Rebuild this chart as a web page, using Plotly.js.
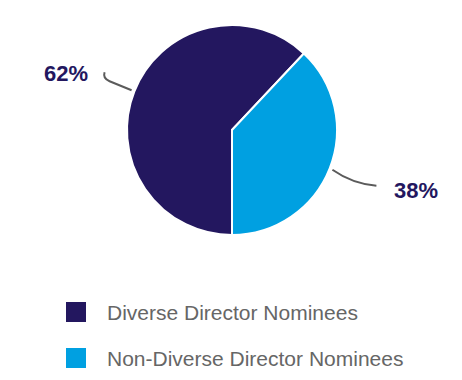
<!DOCTYPE html>
<html>
<head>
<meta charset="utf-8">
<script src="https://cdn.plot.ly/plotly-3.0.1.min.js"></script>
<style>html,body{margin:0;padding:0;background:#fff;}#chart{width:462px;height:380px;}</style>
</head>
<body>
<div id="chart"></div>
<script>
// ---- data ----
const labels = ['Diverse Director Nominees', 'Non-Diverse Director Nominees'];
const values = [62, 38];
const colors = ['#23175F', '#00A0E1'];

// ---- layout constants (pixels) ----
const W = 462, H = 380;
const CX = 232, CY = 130, R = 105;
const ROTATION = 180;
const FONT = 'Arial, "Liberation Sans", sans-serif';
// leader paths relative to slice anchor, and label offsets relative to anchor
const leaderCfg = [
  {path: [['L', -22, -9], ['Q', -29, -12, -27, -18]], label: [-66, -17]},
  {path: [['Q', 20, 14, 44, 16]], label: [84, 21]}
];
const legendCfg = {x: 66, y0: 312, dy: 46, size: 20, textX: 105, fontSize: 21};

const px = (x) => x / W;
const py = (y) => 1 - y / H;

const total = values.reduce((a, b) => a + b, 0);
const shapes = [];
const annotations = [];

let cum = 0;
values.forEach((v, i) => {
  const mid = (ROTATION + (cum + v / 2) / total * 360) * Math.PI / 180;
  cum += v;
  const ax = CX + Math.sin(mid) * (R + 3);
  const ay = CY - Math.cos(mid) * (R + 3);
  const cfg = leaderCfg[i];
  let d = `M${px(ax)},${py(ay)}`;
  cfg.path.forEach(seg => {
    if (seg[0] === 'L') d += ` L${px(ax + seg[1])},${py(ay + seg[2])}`;
    else d += ` Q${px(ax + seg[1])},${py(ay + seg[2])} ${px(ax + seg[3])},${py(ay + seg[4])}`;
  });
  shapes.push({type: 'path', xref: 'paper', yref: 'paper', path: d,
    line: {color: '#5b5b5b', width: 2}});
  annotations.push({xref: 'paper', yref: 'paper',
    x: px(ax + cfg.label[0]), y: py(ay + cfg.label[1]),
    xanchor: 'center', yanchor: 'middle', showarrow: false,
    text: '<b>' + Math.round(v / total * 100) + '%</b>',
    font: {family: FONT, size: 22, color: '#23175F'}});
});

labels.forEach((lab, i) => {
  const cy = legendCfg.y0 + i * legendCfg.dy;
  const s = legendCfg.size;
  shapes.push({type: 'rect', xref: 'paper', yref: 'paper',
    x0: px(legendCfg.x), x1: px(legendCfg.x + s),
    y0: py(cy + s / 2), y1: py(cy - s / 2),
    fillcolor: colors[i], line: {width: 0}});
  annotations.push({xref: 'paper', yref: 'paper',
    x: px(legendCfg.textX), y: py(cy),
    xanchor: 'left', yanchor: 'middle', showarrow: false,
    text: lab, font: {family: FONT, size: legendCfg.fontSize, color: '#666666'}});
});

const trace = {
  type: 'pie',
  labels: labels,
  values: values,
  sort: false,
  direction: 'clockwise',
  rotation: ROTATION,
  textinfo: 'none',
  hoverinfo: 'label+percent',
  showlegend: false,
  marker: {colors: colors, line: {color: '#ffffff', width: 2}},
  domain: {x: [px(CX - R), px(CX + R)], y: [py(CY + R), py(CY - R)]}
};

const layout = {
  width: W, height: H,
  margin: {l: 0, r: 0, t: 0, b: 0},
  paper_bgcolor: '#ffffff',
  showlegend: false,
  shapes: shapes,
  annotations: annotations
};

Plotly.newPlot('chart', [trace], layout, {displayModeBar: false, staticPlot: true});
</script>
</body>
</html>
